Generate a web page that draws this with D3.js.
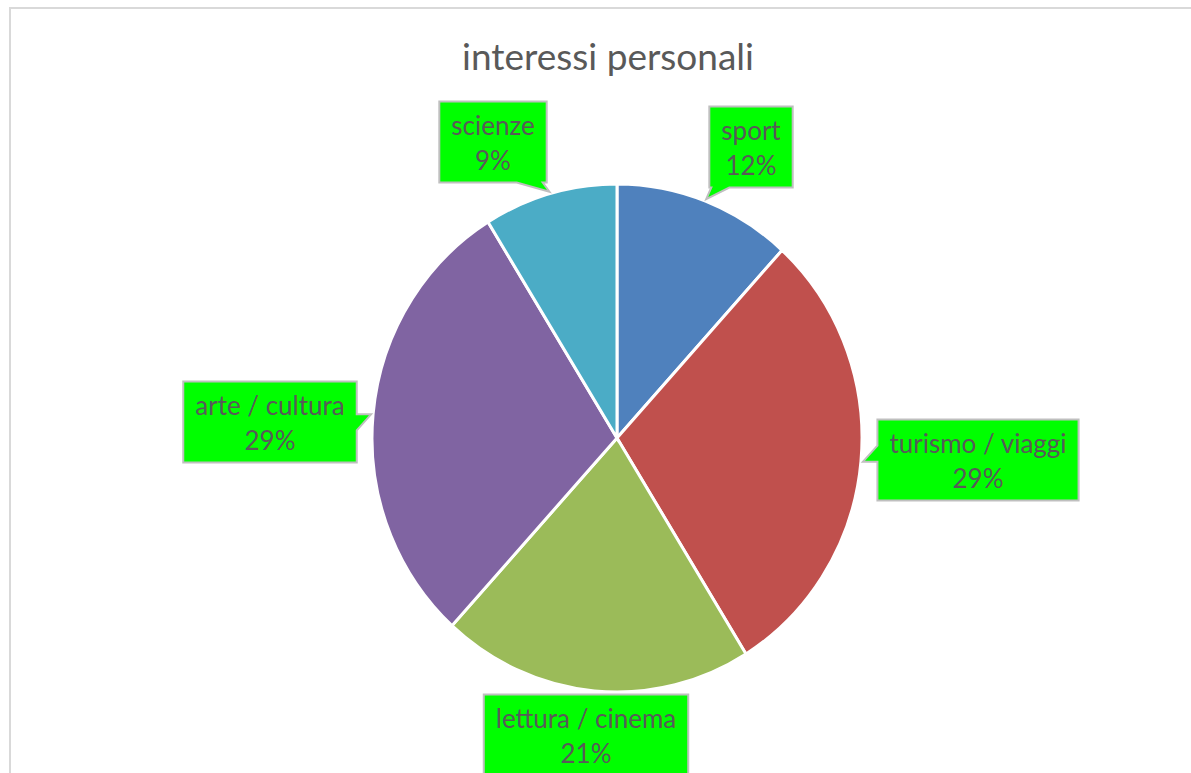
<!DOCTYPE html>
<html lang="it">
<head>
<meta charset="utf-8">
<script src="https://d3js.org/d3.v7.min.js"></script>
<title>interessi personali</title>
<style>
  body { margin: 0; background: #fff; }
  .title { font-family: Lato, "Open Sans", sans-serif; fill: #595959; }
  .lbl text { font-family: Lato, "Open Sans", sans-serif; fill: #595959; }
</style>
</head>
<body>
<svg id="chart" width="1191" height="773"></svg>
<script>
// data
var categories = ["sport", "turismo / viaggi", "lettura / cinema", "arte / cultura", "scienze"];
var counts = [4, 10, 7, 10, 3];
var colors = ["#4F81BD", "#C0504D", "#9BBB59", "#8064A2", "#4BACC6"];

// label box centres, relative to pie centre (layout only)
var labelOffsets = [[134, -291], [361, 22], [-31, 297], [-347, -16], [-124, -296]];

var svg = d3.select("#chart");
var cx = 617, cy = 438, r = 245, sy = 254 / 245;

// chart frame
svg.append("path")
  .attr("d", "M10,773 L10,8 L1191,8")
  .attr("fill", "none")
  .attr("stroke", "#D9D9D9")
  .attr("stroke-width", 2);

svg.append("text")
  .attr("class", "title")
  .attr("x", 608)
  .attr("y", 70)
  .attr("text-anchor", "middle")
  .style("font-size", "37px")
  .text("interessi personali");

var total = d3.sum(counts);
var fmt = d3.format(".0%");

var pie = d3.pie().sort(null).value(function(d) { return d; });
var arcs = pie(counts);
var arc = d3.arc().innerRadius(0).outerRadius(r);

var g = svg.append("g")
  .attr("transform", "translate(" + cx + "," + cy + ") scale(1," + sy + ")");

g.selectAll("path")
  .data(arcs)
  .enter().append("path")
    .attr("d", arc)
    .attr("fill", function(d, i) { return colors[i]; })
    .attr("stroke", "#fff")
    .attr("stroke-width", 3)
    .attr("vector-effect", "non-scaling-stroke");

// callout labels
var lg = svg.append("g").attr("class", "lbl");

arcs.forEach(function(a, i) {
  var grp = lg.append("g");
  var bx = cx + labelOffsets[i][0], by = cy + labelOffsets[i][1];
  var t1 = grp.append("text").attr("x", bx).attr("y", by - 7)
    .attr("text-anchor", "middle").style("font-size", "26px").text(categories[i]);
  var t2 = grp.append("text").attr("x", bx).attr("y", by + 28)
    .attr("text-anchor", "middle").style("font-size", "26px").text(fmt(counts[i] / total));
  var w = Math.max(t1.node().getComputedTextLength(), t2.node().getComputedTextLength()) + 24;
  var h = 81;
  var x0 = bx - w / 2, x1 = bx + w / 2, y0 = by - h / 2, y1 = by + h / 2;

  var mid = (a.startAngle + a.endAngle) / 2;
  var tx = cx + Math.sin(mid) * (r + 2), ty = cy - Math.cos(mid) * (r + 2) * sy;

  var pts = [[x0, y0]];
  if (ty < y0 - 4) {
    var b = tx > bx ? [x1 - 30, x1 - 4] : [x0 + 2, x0 + 20];
    pts.push([b[0], y0], [tx, ty], [b[1], y0]);
  }
  pts.push([x1, y0]);
  if (tx > x1 + 4) {
    var s = Math.max(y0 + 4, Math.min(y1 - 20, ty));
    pts.push([x1, s], [tx, ty], [x1, s + 16]);
  }
  pts.push([x1, y1]);
  if (ty > y1 + 4) {
    var b2 = tx > bx ? [x1 - 30, x1 - 4] : [x0 + 2, x0 + 20];
    pts.push([b2[1], y1], [tx, ty], [b2[0], y1]);
  }
  pts.push([x0, y1]);
  if (tx < x0 - 4) {
    var s2 = Math.max(y0 + 4, Math.min(y1 - 20, ty - 16));
    pts.push([x0, s2 + 16], [tx, ty], [x0, s2]);
  }

  grp.insert("path", "text")
    .attr("d", d3.line()(pts) + "Z")
    .attr("fill", "#00FF00")
    .attr("stroke", "#BFBFBF")
    .attr("stroke-width", 2);
});
</script>
</body>
</html>
